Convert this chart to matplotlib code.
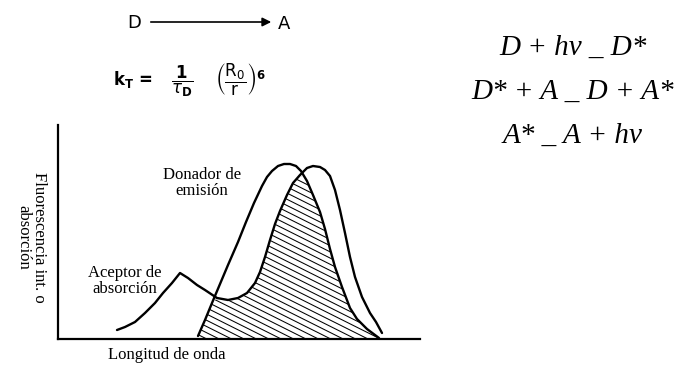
import numpy as np
import matplotlib
matplotlib.use("Agg")
import matplotlib.pyplot as plt
from matplotlib.patches import Polygon
from matplotlib.collections import LineCollection

# curves (arbitrary wavelength / intensity units)
donor_x = [140, 147, 154, 162, 170, 180, 188, 196, 204, 209, 214, 220, 226, 232, 238, 243,
           249, 255, 262, 267, 272, 277, 284, 292, 299, 309, 321]
donor_y = [3, 19, 36, 55, 74, 97, 117, 136, 153, 162, 168, 173, 175, 175, 173, 168,
           158, 144, 127, 110, 90, 72, 52, 31, 20, 10, 1]

acceptor_x = [59, 67, 77, 87, 97, 105, 114, 122, 130, 139, 147, 159, 170, 180, 189, 197,
              202, 207, 212, 217, 222, 229, 235, 242, 249, 255, 262, 267, 272, 277,
              282, 287, 292, 297, 304, 312, 318, 324]
acceptor_y = [9, 12, 17, 26, 36, 46, 56, 66, 61, 54, 49, 41, 39, 41, 46, 56,
              67, 82, 99, 115, 128, 144, 156, 164, 171, 173, 172, 169, 163, 149,
              129, 106, 82, 62, 42, 26, 17, 6]

x_label = "Longitud de onda"
y_label = "Fluorescencia int. o\nabsorción"
donor_label = "Donador de\nemisión"
acceptor_label = "Aceptor de\nabsorción"
reactions = ["D + hv _ D*", "D* + A _ D + A*", "A* _ A + hv"]


def overlap_outline(xa, ya, xb, yb):
    """Points of the lower of the two curves where both exist."""
    xa, ya, xb, yb = map(np.asarray, (xa, ya, xb, yb))
    keep_x, keep_y = [], []
    for px, py, ox, oy in ((xa, ya, xb, yb), (xb, yb, xa, ya)):
        inside = (px >= ox.min()) & (px <= ox.max())
        lower = py <= np.interp(px, ox, oy)
        sel = inside & lower
        keep_x.extend(px[sel])
        keep_y.extend(py[sel])
    order = np.argsort(keep_x)
    ox = np.array(keep_x, dtype=float)[order]
    oy = np.array(keep_y, dtype=float)[order]
    ox = np.concatenate([[ox[0]], ox, [ox[-1]]])
    oy = np.concatenate([[0], oy, [0]])
    return np.column_stack([ox, oy])


W, H = 679, 368
fig = plt.figure(figsize=(W / 100, H / 100), dpi=100)

# diagram axes (1 data unit == 1 pixel)
ax = fig.add_axes([58 / W, 29 / H, 362 / W, 214 / H])
ax.set_xlim(0, 362)
ax.set_ylim(0, 214)
for side in ("top", "right"):
    ax.spines[side].set_visible(False)
for side in ("left", "bottom"):
    ax.spines[side].set_linewidth(1.6)
ax.set_xticks([])
ax.set_yticks([])

# hatched overlap, shallow diagonal lines clipped to the overlap region
outline = overlap_outline(donor_x, donor_y, acceptor_x, acceptor_y)
region = Polygon(outline, closed=True, fill=False, linewidth=0)
ax.add_patch(region)
slope, step = -0.5, 6.2
offsets = np.arange(0, 400, step)
segs = [[(0, c), (362, c + slope * 362)] for c in offsets]
hatch = LineCollection(segs, colors="black", linewidths=0.75)
ax.add_collection(hatch)
hatch.set_clip_path(region)

ax.plot(donor_x, donor_y, color="black", lw=1.7, solid_capstyle="round")
ax.plot(acceptor_x, acceptor_y, color="black", lw=1.7, solid_capstyle="round")

# overlay in pixel coordinates for the annotations
ov = fig.add_axes([0, 0, 1, 1], facecolor="none")
ov.set_xlim(0, W)
ov.set_ylim(H, 0)
ov.axis("off")

serif = "Liberation Serif"
ov.text(31, 237, y_label, rotation=-90, ha="center", va="center",
        family=serif, fontsize=12, linespacing=1.0)
ov.text(167, 355, x_label, ha="center", va="center", family=serif, fontsize=12)
ov.text(202, 183, donor_label, ha="center", va="center", family=serif,
        fontsize=12, linespacing=1.0)
ov.text(125, 281, acceptor_label, ha="center", va="center", family=serif,
        fontsize=12, linespacing=1.0)

# D --> A
ov.text(134, 23, "D", ha="center", va="center", fontsize=13, family="DejaVu Sans")
ov.text(284, 24, "A", ha="center", va="center", fontsize=13, family="DejaVu Sans")
ov.annotate("", xy=(274, 22), xytext=(148, 22),
            arrowprops=dict(arrowstyle="-|>", lw=1.2, color="black", mutation_scale=13))

# Forster rate, set in pieces to follow the original spacing
ov.text(113, 79, r"$\mathbf{k}_\mathbf{T}\,\mathbf{=}$", ha="left", va="center", fontsize=12)
ov.text(182, 81, r"$\dfrac{\mathbf{1}}{\tau_\mathbf{D}}$", ha="center", va="center", fontsize=12)
ov.text(215, 80, r"$\left(\dfrac{\mathsf{R_0}}{\mathsf{r}}\right)^\mathbf{6}$",
        ha="left", va="center", fontsize=12)

# reactions
for i, line in enumerate(reactions):
    ov.text(573, 48 + i * 44, line, ha="center", va="center", family=serif,
            style="italic", fontsize=21)

fig.savefig("out.png", dpi=100)
